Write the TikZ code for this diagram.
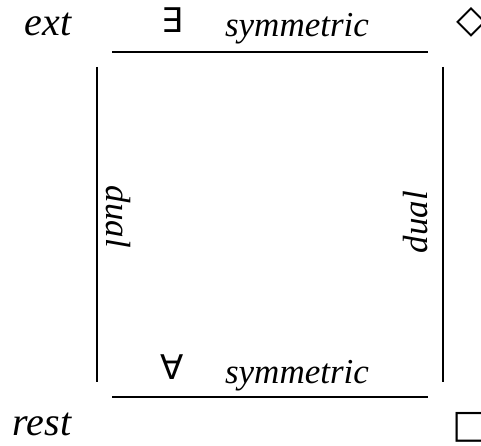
\documentclass[tikz,border=0pt]{standalone}
\usepackage{fontspec}
\setmainfont{Liberation Serif}
\newfontfamily\symfont{DejaVu Sans}
\usetikzlibrary{positioning}

\begin{document}
\begin{tikzpicture}[
    x=1pt, y=-1pt,
    lbl/.style={inner sep=0pt, anchor=base, font=\fontsize{35}{40}\selectfont\itshape},
    corner/.style={lbl, font=\fontsize{40}{44}\selectfont\itshape},
    quant/.style={inner sep=0pt, anchor=base, font=\fontsize{34}{38}\symfont},
    modal/.style={inner sep=0pt, anchor=center, font=\fontsize{39}{42}\symfont},
    side/.style={draw=black, line width=1.3pt}
]
\useasboundingbox (0,0) rectangle (481,446);
% corners
\node[corner] (ext) at (48,36) {ext};
\node[corner] (rest) at (42,435) {rest};
\node[modal] (poss) at (471,22) {◇};
\node[modal] (nec) at (471,427) {□};
% quantifiers and edge labels
\node[quant] (exists) at (172,33) {∃};
\node[quant] (forall) at (172,379) {∀};
\node[lbl] (symtop) at (297,37) {symmetric};
\node[lbl] (symbot) at (297,383) {symmetric};
\node[lbl, anchor=center, rotate=-90] (dualleft) at (118,217) {dual};
\node[lbl, anchor=center, rotate=90] (dualright) at (416,222) {dual};
% square
\coordinate (tl) at (112,52);
\coordinate (tr) at (428,52);
\coordinate (bl) at (112,397);
\coordinate (br) at (428,397);
\coordinate (lt) at (97,67);
\coordinate (lb) at (97,382);
\coordinate (rt) at (443,67);
\coordinate (rb) at (443,382);
\draw[side] (tl) -- (tr);
\draw[side] (bl) -- (br);
\draw[side] (lt) -- (lb);
\draw[side] (rt) -- (rb);
\end{tikzpicture}
\end{document}
